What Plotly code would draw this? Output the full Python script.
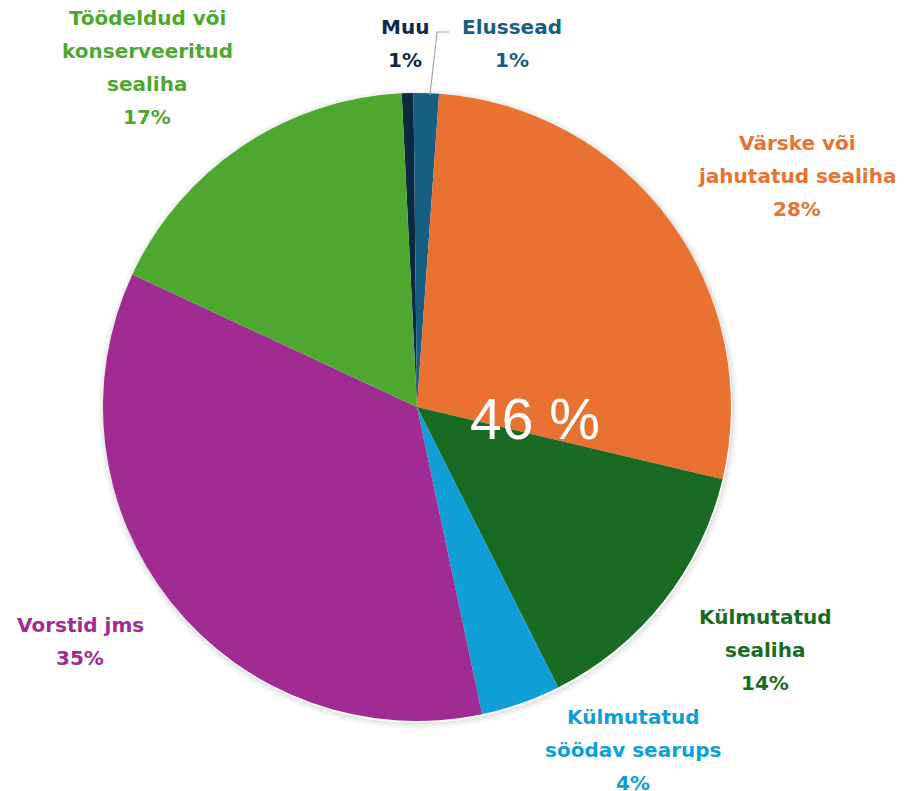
import plotly.graph_objects as go

# Data, clockwise from just left of 12 o'clock
categories = [
    "Muu",
    "Elussead",
    "Värske või jahutatud sealiha",
    "Külmutatud sealiha",
    "Külmutatud söödav searups",
    "Vorstid jms",
    "Töödeldud või konserveeritud sealiha",
]
shares = [0.6, 1.3, 27.6, 13.9, 4.1, 35.3, 17.3]
colors = ["#0E2841", "#156082", "#E97132", "#196B24", "#0F9ED5", "#A02B93", "#4EA72E"]

# label lines (name part) for each slice
label_lines = [
    ["Muu"],
    ["Elussead"],
    ["Värske või", "jahutatud sealiha"],
    ["Külmutatud", "sealiha"],
    ["Külmutatud", "söödav searups"],
    ["Vorstid jms"],
    ["Töödeldud või", "konserveeritud", "sealiha"],
]
center_note = "46 %"

# page has an 8px body margin, so the figure starts at (8, 8) in the window
OFF = 8
W, H = 902, 783
CX, CY, R = 417, 407, 314

# label anchor (window pixel centre of first line) and line step
label_pos = [(405, 27), (512, 27), (797, 143), (765, 617), (633, 717), (80, 625), (147, 18)]
line_step = 33


def px(x):
    return (x - OFF) / W


def py(y):
    return 1 - (y - OFF) / H


fig = go.Figure()
fig.add_trace(
    go.Pie(
        labels=categories,
        values=shares,
        sort=False,
        direction="clockwise",
        rotation=-2.8,
        marker=dict(colors=colors, line=dict(width=0)),
        textinfo="none",
        hoverinfo="label+percent",
        showlegend=False,
        domain=dict(x=[px(CX - R), px(CX + R)], y=[py(CY + R), py(CY - R)]),
    )
)

total = sum(shares)
annotations = []
for lines, (lx, ly), val, col in zip(label_lines, label_pos, shares, colors):
    all_lines = lines + [f"{round(val / total * 100)}%"]
    for i, t in enumerate(all_lines):
        annotations.append(
            dict(
                text=f"<b>{t}</b>",
                x=px(lx), y=py(ly + i * line_step),
                xref="paper", yref="paper",
                xanchor="center", yanchor="middle",
                showarrow=False,
                font=dict(family="DejaVu Sans", size=20, color=col),
            )
        )

annotations.append(
    dict(
        text=center_note,
        x=px(535), y=py(419),
        xref="paper", yref="paper",
        xanchor="center", yanchor="middle",
        showarrow=False,
        font=dict(family="Liberation Sans, Arial", size=57, color="white"),
    )
)

# soft shadow rings behind the pie
shapes = []
for k, op in [(1, 0.10), (3, 0.06), (5, 0.03)]:
    shapes.append(
        dict(
            type="circle", xref="paper", yref="paper", layer="below",
            x0=px(CX - R - k + 1), x1=px(CX + R + k + 1),
            y0=py(CY + R + k + 2), y1=py(CY - R - k + 2),
            line=dict(color=f"rgba(0,0,0,{op})", width=2),
        )
    )

# leader line to "Elussead"
shapes.append(
    dict(
        type="path", xref="paper", yref="paper",
        path=f"M {px(430)},{py(95)} L {px(437)},{py(32)} L {px(449)},{py(32)}",
        line=dict(color="#A6A6A6", width=1.2),
    )
)

fig.update_layout(
    width=W,
    height=H,
    margin=dict(l=0, r=0, t=0, b=0),
    paper_bgcolor="white",
    plot_bgcolor="white",
    annotations=annotations,
    shapes=shapes,
)

fig.write_html("out.html")
